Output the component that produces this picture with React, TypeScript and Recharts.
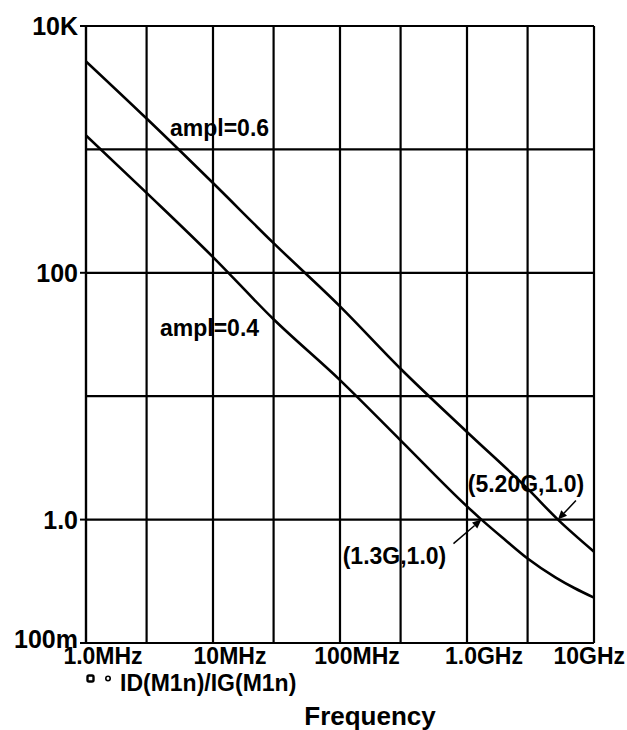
import React from 'react';
import { LineChart, Line, XAxis, YAxis, CartesianGrid, ReferenceDot, Customized } from 'recharts';

// Frequency in MHz
const freqTicks = [1, 3, 10, 30, 100, 300, 1000, 3000, 10000];
const freqLabels: Record<number, string> = { 1: '1.0MHz', 10: '10MHz', 100: '100MHz', 1000: '1.0GHz', 10000: '10GHz' };
const gainTicks = [0.1, 1, 10, 100, 1000, 10000];
const gainLabels: Record<number, string> = { 0.1: '100m', 1: '1.0', 100: '100', 10000: '10K' };

// ampl=0.6
const upperFreq = [1, 3, 10, 30, 100, 300, 1000, 3000, 5200, 10000];
const upperGain = [5170, 1780, 534, 174, 53.5, 16.7, 5.13, 1.78, 1.0, 0.55];
// ampl=0.4
const lowerFreq = [1, 3, 10, 30, 100, 300, 1000, 1300, 2000, 3000, 5000, 7000, 10000];
const lowerGain = [1300, 444, 134, 42, 13.5, 4.39, 1.28, 1.0, 0.684, 0.484, 0.339, 0.279, 0.233];

const upperData = upperFreq.map((f, i) => ({ f, v: upperGain[i] }));
const lowerData = lowerFreq.map((f, i) => ({ f, v: lowerGain[i] }));

const FONT = '"Liberation Sans", Arial, sans-serif';

const XTick = (props: any) => {
  const { x, y, payload } = props;
  const label = freqLabels[payload.value];
  if (!label) return null;
  const last = payload.value === 10000;
  return (
    <text x={last ? 625 : x + 17} y={y + 13} textAnchor={last ? 'end' : 'middle'}
      fontFamily={FONT} fontWeight="bold" fontSize={23} fill="#000">{label}</text>
  );
};

const YTick = (props: any) => {
  const { x, y, payload } = props;
  const label = gainLabels[payload.value];
  if (!label) return null;
  const dy = payload.value === 0.1 ? -4 : 0;
  return (
    <g>
      <line x1={x + 2} x2={x + 8} y1={y} y2={y} stroke="#000" strokeWidth={2} />
      <text x={x} y={y + dy + 9} textAnchor="end" fontFamily={FONT} fontWeight="bold" fontSize={25} fill="#000">{label}</text>
    </g>
  );
};

const makeArrowLabel = (text: string, tdx: number, tdy: number, ax: number, ay: number) => (props: any) => {
  const vb = props.viewBox || {};
  const cx = vb.x + (vb.width || 0) / 2;
  const cy = vb.y + (vb.height || 0) / 2;
  const tx = cx + ax;
  const ty = cy + ay;
  const len = Math.hypot(ax, ay);
  const ux = -ax / len;
  const uy = -ay / len;
  const hl = 9;
  const hw = 4;
  const bx = cx - ux * hl;
  const by = cy - uy * hl;
  const px = -uy;
  const py = ux;
  return (
    <g>
      <line x1={tx} y1={ty} x2={bx} y2={by} stroke="#000" strokeWidth={1.5} />
      <polygon points={`${cx},${cy} ${bx + px * hw},${by + py * hw} ${bx - px * hw},${by - py * hw}`} fill="#000" />
      <text x={cx + tdx} y={cy + tdy} textAnchor="middle" fontFamily={FONT} fontWeight="bold" fontSize={23} fill="#000">{text}</text>
    </g>
  );
};

const Extras = () => (
  <g>
    <text x={170} y={136} fontFamily={FONT} fontWeight="bold" fontSize={23} fill="#000">ampl=0.6</text>
    <text x={160} y={336} fontFamily={FONT} fontWeight="bold" fontSize={23} fill="#000">ampl=0.4</text>
    <rect x={87.5} y={675.5} width={6} height={6} rx={1.5} fill="none" stroke="#000" strokeWidth={2.4} />
    <circle cx={108} cy={678.5} r={2.2} fill="none" stroke="#000" strokeWidth={1.6} />
    <text x={120} y={691} fontFamily={FONT} fontWeight="bold" fontSize={23} fill="#000">ID(M1n)/IG(M1n)</text>
    <text x={370} y={725} textAnchor="middle" fontFamily={FONT} fontWeight="bold" fontSize={26} fill="#000">Frequency</text>
  </g>
);

export default function App() {
  return (
    <div style={{ position: 'absolute', left: 0, top: 0, background: '#fff' }}>
      <LineChart width={627} height={730} margin={{ top: 26, right: 33, bottom: 0, left: 0 }}>
        <CartesianGrid stroke="#000" strokeWidth={2.2} />
        <XAxis dataKey="f" type="number" scale="log" domain={[1, 10000]} ticks={freqTicks}
          allowDataOverflow height={87} tickSize={6} tickMargin={2} tickLine={false}
          axisLine={{ stroke: '#000', strokeWidth: 2.2 }} tick={<XTick />} interval={0} />
        <YAxis dataKey="v" type="number" scale="log" domain={[0.1, 10000]} ticks={gainTicks}
          allowDataOverflow width={86} tickSize={6} tickMargin={2} tickLine={false}
          axisLine={{ stroke: '#000', strokeWidth: 2.2 }} tick={<YTick />} interval={0} />
        <Line data={upperData} dataKey="v" type="monotone" stroke="#000" strokeWidth={2.6} dot={false} isAnimationActive={false} />
        <Line data={lowerData} dataKey="v" type="monotone" stroke="#000" strokeWidth={2.6} dot={false} isAnimationActive={false} />
        <ReferenceDot x={5200} y={1} r={0} fill="none" stroke="none" label={makeArrowLabel('(5.20G,1.0)', -32, -28, 18, -19)} />
        <ReferenceDot x={1300} y={1} r={0} fill="none" stroke="none" label={makeArrowLabel('(1.3G,1.0)', -87, 44, -28, 24)} />
        <Customized component={Extras} />
      </LineChart>
    </div>
  );
}
